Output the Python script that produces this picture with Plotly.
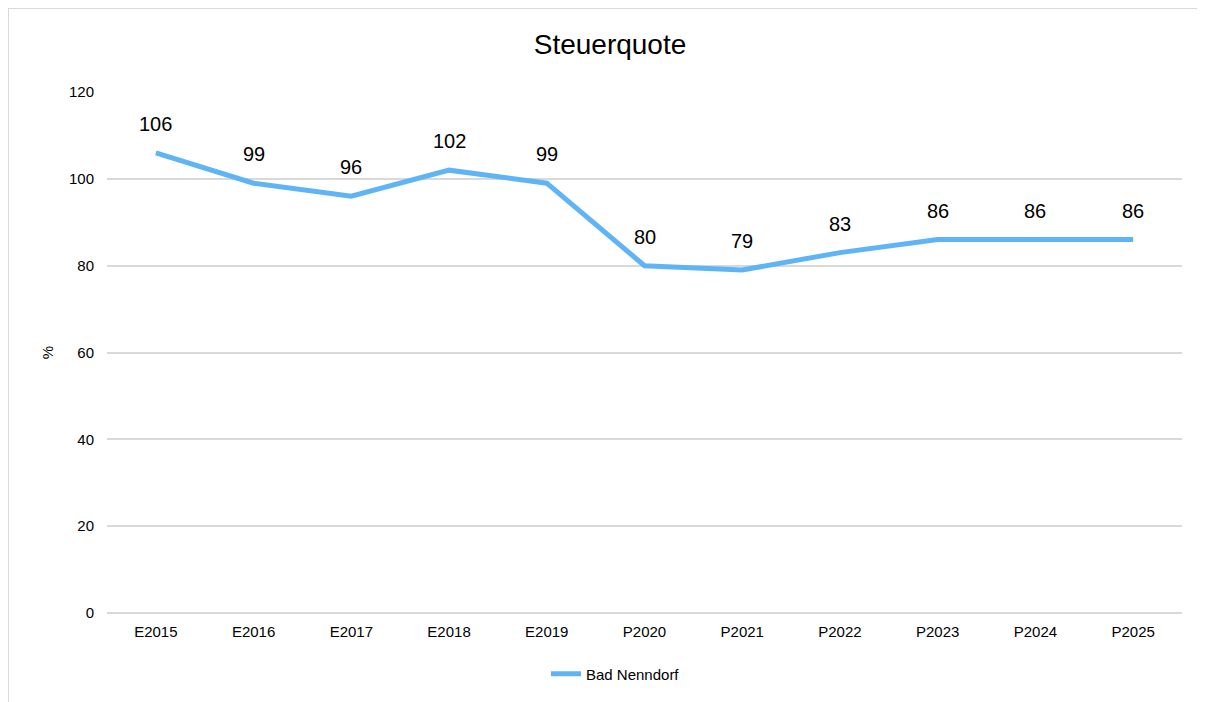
import plotly.graph_objects as go

# data
categories = ["E2015", "E2016", "E2017", "E2018", "E2019",
              "P2020", "P2021", "P2022", "P2023", "P2024", "P2025"]
steuerquote = [106, 99, 96, 102, 99, 80, 79, 83, 86, 86, 86]
y_ticks = [0, 20, 40, 60, 80, 100, 120]

FONT = "Liberation Sans, Arial, sans-serif"
LINE_COLOR = "#5fb4f6"
GRID_COLOR = "#d9d9d9"

# the page puts the figure 8px in from the top-left corner
W, H = 1197, 694
L, R, T, B = 99, 23, 84, 89
plot_w = W - L - R
plot_h = H - T - B

fig = go.Figure()
fig.add_trace(go.Scatter(
    x=categories, y=steuerquote,
    mode="lines",
    line=dict(color=LINE_COLOR, width=5),
    name="Bad Nenndorf",
))

# value labels above each point
for cat, val in zip(categories, steuerquote):
    fig.add_annotation(
        x=cat, y=val, text=str(val),
        showarrow=False, yanchor="middle", yshift=29,
        font=dict(family=FONT, size=20, color="#000000"),
    )

# outer chart frame (left and top edges visible in the reference)
fx = (0 - L) / plot_w
fy = 1 + (T - 0) / plot_h
fig.add_shape(type="line", xref="paper", yref="paper",
              x0=fx, x1=fx, y0=-0.3, y1=fy,
              line=dict(color=GRID_COLOR, width=2))
fig.add_shape(type="line", xref="paper", yref="paper",
              x0=fx, x1=1.05, y0=fy, y1=fy,
              line=dict(color=GRID_COLOR, width=2))

fig.update_layout(
    width=W, height=H,
    margin=dict(l=L, r=R, t=T, b=B),
    paper_bgcolor="white", plot_bgcolor="white",
    font=dict(family=FONT, size=15, color="#000000"),
    title=dict(text="Steuerquote", x=602 / W, xanchor="center",
               y=1 - 36 / H, yanchor="middle",
               font=dict(family=FONT, size=28, color="#000000")),
    showlegend=True,
    legend=dict(orientation="h", x=0.473, xanchor="center",
                y=-61 / plot_h, yanchor="middle",
                font=dict(family=FONT, size=15, color="#000000")),
    xaxis=dict(
        type="category", range=[-0.5, len(categories) - 0.5],
        showgrid=False, showline=False, zeroline=False,
        ticks="", ticklabelstandoff=8,
    ),
    yaxis=dict(
        range=[0, 120], tickvals=y_ticks,
        showgrid=True, gridcolor=GRID_COLOR, gridwidth=1.5,
        zeroline=True, zerolinecolor=GRID_COLOR, zerolinewidth=1.5,
        showline=False, ticks="",
        ticklabelstandoff=12,
        title=dict(text="%", standoff=11, font=dict(family=FONT, size=15)),
    ),
)

fig.write_html("out.html")
